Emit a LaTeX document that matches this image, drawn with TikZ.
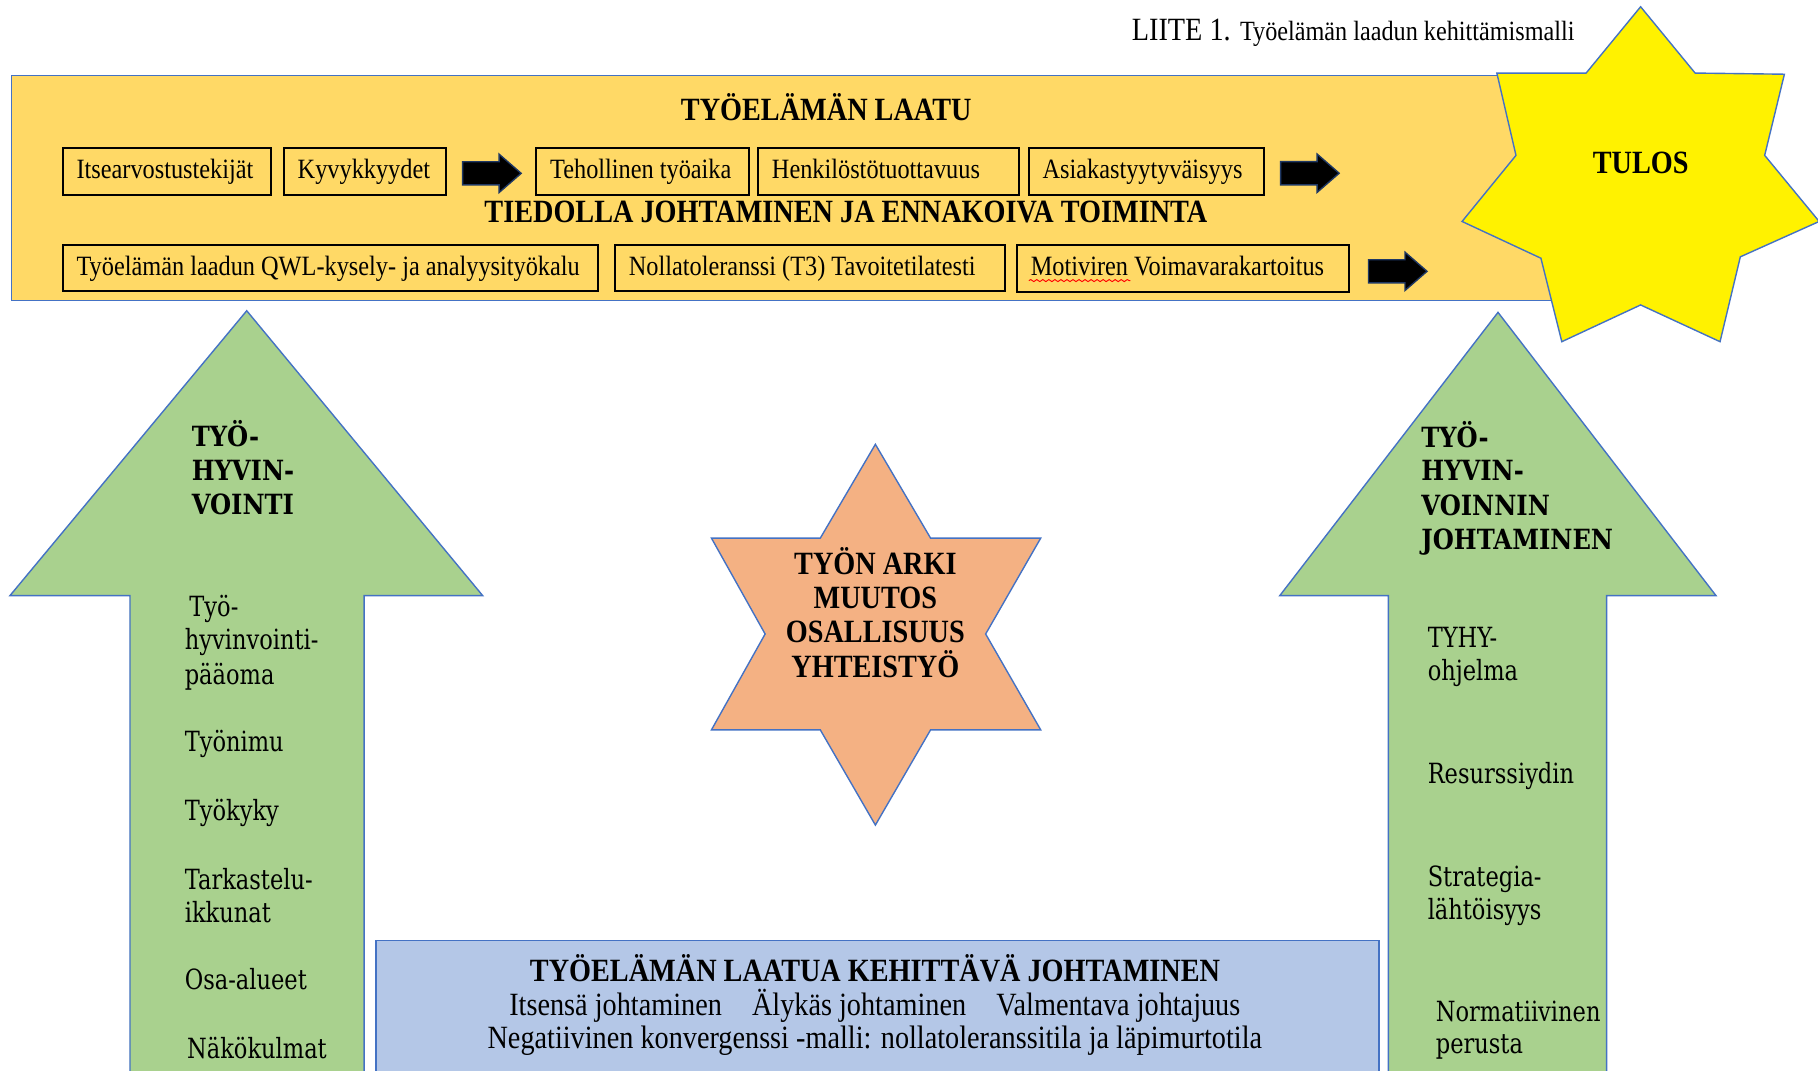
\documentclass[tikz,border=0pt]{standalone}
\usepackage{fontspec}
\setmainfont{Liberation Serif}
\newfontfamily\tnr[FakeStretch=0.87]{Liberation Serif}
\newfontfamily\csb[FakeStretch=0.81]{DejaVu Serif}
\newfontfamily\csbold[FakeStretch=0.87]{DejaVu Serif}
\usetikzlibrary{decorations.pathmorphing}
\definecolor{bandfill}{RGB}{255,217,102}
\definecolor{edgeblue}{RGB}{68,114,196}
\definecolor{arrowgreen}{RGB}{169,209,142}
\definecolor{starorange}{RGB}{244,177,131}
\definecolor{boxblue}{RGB}{180,199,231}
\definecolor{arrowedge}{RGB}{31,56,100}
\newcommand\bxt[2]{\makebox[#1][l]{\hspace{6pt}#2}}
\begin{document}
\begin{tikzpicture}[x=0.5pt,y=-0.5pt,
 boxst/.style={draw=black, line width=0.8pt, inner xsep=0pt, inner ysep=0pt, text height=9pt, text depth=2.5pt, anchor=north west, font=\tnr\fontsize{12.05}{14}\selectfont},
 ttl/.style={anchor=base, inner sep=0pt, font=\tnr\bfseries\fontsize{14}{16}\selectfont},
 bodytxt/.style={anchor=base, inner sep=0pt, font=\tnr\fontsize{14}{16}\selectfont},
 atitle/.style={anchor=base west, inner sep=0pt, font=\csbold\bfseries\fontsize{12}{14}\selectfont},
 aitem/.style={anchor=base west, inner sep=0pt, font=\csb\fontsize{12}{14}\selectfont},
 outl/.style={draw=edgeblue, line width=0.6pt, line join=miter},
 blk/.style={fill=black, draw=arrowedge, line width=0.6pt},
 blockarrow/.pic={\filldraw[blk] (0,-10) -- (31.5,-10) -- (31.5,-16.5) -- (50.5,0) -- (31.5,16.5) -- (31.5,10) -- (0,10) -- cycle;}
]
\useasboundingbox (0,0) rectangle (1568,923);
\clip (0,0) rectangle (1568,923);
\fill[white] (0,0) rectangle (1568,923);

% title
\node[anchor=base west, inner sep=0pt] (liite) at (975.8,34.5) {\tnr\fontsize{14}{16}\selectfont LIITE 1. \fontsize{12}{14}\selectfont Työelämän laadun kehittämismalli};

% band
\node[draw=edgeblue, line width=0.6pt, fill=bandfill, anchor=north west, inner sep=0pt, minimum width=702.95pt, minimum height=97.05pt] (band) at (9.1,64.7) {};
\node[ttl] (t1) at (712.6,104.1) {TYÖELÄMÄN LAATU};
\node[ttl] (t2) at (729.6,192) {TIEDOLLA JOHTAMINEN JA ENNAKOIVA TOIMINTA};

\node[boxst, minimum height=20.4pt] (b1) at (53.2,126.5) {\bxt{89.85pt}{Itsearvostustekijät}};
\node[boxst, minimum height=20.4pt] (b2) at (244,126.5) {\bxt{69.9pt}{Kyvykkyydet}};
\node[boxst, minimum height=20.4pt] (b3) at (461.7,126.5) {\bxt{91.9pt}{Tehollinen työaika}};
\node[boxst, minimum height=20.4pt] (b4) at (653,126.5) {\bxt{112.65pt}{Henkilöstötuottavuus}};
\node[boxst, minimum height=20.4pt] (b5) at (886.4,126.5) {\bxt{101.5pt}{Asiakastyytyväisyys}};
\node[boxst, minimum height=19.9pt] (b6) at (53.2,210.5) {\bxt{230.85pt}{Työelämän laadun QWL-kysely- ja analyysityökalu}};
\node[boxst, minimum height=19.9pt] (b7) at (529.6,210.5) {\bxt{168.3pt}{Nollatoleranssi (T3) Tavoitetilatesti}};
\node[boxst, minimum height=20.1pt] (b8) at (876.3,210.5) {\bxt{143.15pt}{Motiviren Voimavarakartoitus}};
\coordinate (w1) at (887.4,242);
\coordinate (w2) at (975,242);
\draw[red, line width=0.4pt, decorate, decoration={snake, amplitude=0.45pt, segment length=2.6pt}] (w1) -- (w2);

\pic at (399,149.5) {blockarrow};
\pic at (1104.5,149.4) {blockarrow};
\pic at (1180.3,234) {blockarrow};

% TULOS star
\filldraw[outl, fill=yellow] (1415,5.8) -- (1462,63) -- (1539,64) -- (1522,134) -- (1569,191) -- (1501,221.5) -- (1483.5,294.7) -- (1415,263) -- (1347,294.7) -- (1329,222.7) -- (1261,191) -- (1307.5,134) -- (1291,63) -- (1368,63) -- cycle;
\node[ttl] (tulos) at (1415.1,150) {TULOS};

% green arrows
\filldraw[outl, fill=arrowgreen] (112.1,940) -- (112.1,513.7) -- (8.6,513.7) -- (212.8,268) -- (416.3,513.7) -- (314,513.7) -- (314,940) -- cycle;
\filldraw[outl, fill=arrowgreen] (1197.4,940) -- (1197.4,513.7) -- (1103.8,513.7) -- (1292,269.4) -- (1480,513.7) -- (1385.7,513.7) -- (1385.7,940) -- cycle;

\node[atitle] (l1) at (165,385) {TYÖ-};
\node[atitle] (l2) at (165,414.2) {HYVIN-};
\node[atitle] (l3) at (165,443.9) {VOINTI};
\node[aitem] (l4) at (163,532) {Työ-};
\node[aitem] (l5) at (159,560.3) {hyvinvointi-};
\node[aitem] (l6) at (159,590.4) {pääoma};
\node[aitem] (l7) at (159,648.4) {Työnimu};
\node[aitem] (l8) at (159,707.7) {Työkyky};
\node[aitem] (l9) at (159,767) {Tarkastelu-};
\node[aitem] (l10) at (159,795.8) {ikkunat};
\node[aitem] (l11) at (159,853.8) {Osa-alueet};
\node[aitem] (l12) at (161,913.1) {Näkökulmat};

\node[atitle] (r1) at (1225.5,385.9) {TYÖ-};
\node[atitle] (r2) at (1225.5,414.6) {HYVIN-};
\node[atitle] (r3) at (1225.5,444.3) {VOINNIN};
\node[atitle] (r4) at (1225.5,473.5) {JOHTAMINEN};
\node[aitem] (r5) at (1231,558.6) {TYHY-};
\node[aitem] (r6) at (1231,587) {ohjelma};
\node[aitem] (r7) at (1231,676) {Resurssiydin};
\node[aitem] (r8) at (1231,764.9) {Strategia-};
\node[aitem] (r9) at (1231,793.3) {lähtöisyys};
\node[aitem] (r10) at (1238,881.3) {Normatiivinen};
\node[aitem] (r11) at (1238,908.9) {perusta};

% orange star
\filldraw[outl, fill=starorange] (755,383.2) -- (802.6,464.1) -- (897.6,464.1) -- (850.1,546.8) -- (897.6,629.5) -- (802.6,629.5) -- (755,711.6) -- (707.5,629.5) -- (613.6,629.5) -- (659.9,546.8) -- (613.6,464.1) -- (707.5,464.1) -- cycle;
\node[ttl] (s1) at (755,495.9) {TYÖN ARKI};
\node[ttl] (s2) at (755,525.1) {MUUTOS};
\node[ttl] (s3) at (755,554) {OSALLISUUS};
\node[ttl] (s4) at (755,583.9) {YHTEISTYÖ};

% blue box
\node[draw=edgeblue, line width=0.6pt, fill=boxblue, anchor=north west, inner sep=0pt, minimum width=432.6pt, minimum height=70pt] (qbox) at (323.6,810.8) {};
\node[ttl] (q1) at (754.7,846.8) {TYÖELÄMÄN LAATUA KEHITTÄVÄ JOHTAMINEN};
\node[bodytxt] (q2) at (754.5,876) {Itsensä johtaminen\hspace{13pt}Älykäs johtaminen\hspace{13pt}Valmentava johtajuus};
\node[bodytxt] (q3) at (754.5,904.2) {Negatiivinen konvergenssi -malli: nollatoleranssitila ja läpimurtotila};
\end{tikzpicture}
\end{document}
